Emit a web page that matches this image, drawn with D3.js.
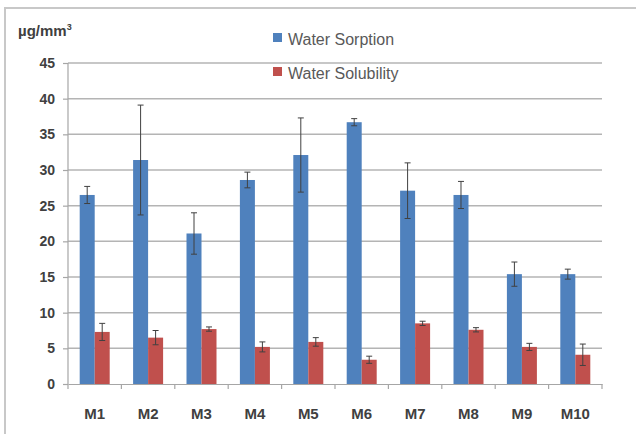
<!DOCTYPE html>
<html>
<head>
<meta charset="utf-8">
<script src="https://cdn.jsdelivr.net/npm/d3@7"></script>
<style>
  body { margin: 0; background: #fff; }
  svg { display: block; font-family: "Liberation Sans", Arial, sans-serif; }
</style>
</head>
<body>
<svg width="636" height="434"></svg>
<script>
var categories = ["M1", "M2", "M3", "M4", "M5", "M6", "M7", "M8", "M9", "M10"];
var seriesNames = ["Water Sorption", "Water Solubility"];
var sorption = [26.5, 31.4, 21.1, 28.6, 32.1, 36.7, 27.1, 26.5, 15.4, 15.4];
var sorptionErr = [1.2, 7.7, 2.9, 1.1, 5.2, 0.5, 3.9, 1.9, 1.7, 0.7];
var solubility = [7.3, 6.5, 7.7, 5.2, 5.9, 3.4, 8.5, 7.6, 5.2, 4.1];
var solubilityErr = [1.2, 1.0, 0.3, 0.7, 0.6, 0.5, 0.3, 0.3, 0.5, 1.5];
var yTicks = [0, 5, 10, 15, 20, 25, 30, 35, 40, 45];
var colors = ["#4f81bd", "#c0504d"];

var svg = d3.select("svg"),
    margin = {top: 63, right: 34, bottom: 50, left: 68},
    width = +svg.attr("width") - margin.left - margin.right,
    height = +svg.attr("height") - margin.top - margin.bottom;

var data = categories.map(function(c, i) {
  return {
    cat: c,
    values: [
      {key: seriesNames[0], v: sorption[i], e: sorptionErr[i], k: 0},
      {key: seriesNames[1], v: solubility[i], e: solubilityErr[i], k: 1}
    ]
  };
});

// outer frame (cut off at right/bottom edge in the picture)
svg.append("rect")
    .attr("x", 5).attr("y", 8)
    .attr("width", 700).attr("height", 500)
    .attr("fill", "none")
    .attr("stroke", "#c8c8c8")
    .attr("stroke-width", 2);

var x0 = d3.scaleBand()
    .domain(categories)
    .range([0, width]);

var x1 = d3.scaleBand()
    .domain(seriesNames)
    .range([0, x0.bandwidth()])
    .paddingOuter(0.78);

var y = d3.scaleLinear()
    .domain([0, 45])
    .range([height, 0]);

var g = svg.append("g")
    .attr("transform", "translate(" + margin.left + "," + margin.top + ")");

// gridlines
g.append("g")
  .selectAll("line")
  .data(yTicks.slice(1))
  .enter().append("line")
    .attr("x1", 0).attr("x2", width)
    .attr("y1", function(d) { return y(d); })
    .attr("y2", function(d) { return y(d); })
    .attr("stroke", "#b4b4b4")
    .attr("stroke-width", 1.5);

// y axis
var yAxis = g.append("g")
    .call(d3.axisLeft(y).tickValues(yTicks).tickSize(5).tickPadding(8));
yAxis.select(".domain").attr("stroke", "#a6a6a6").attr("stroke-width", 1.2)
    .attr("d", "M0," + y(45) + "V" + y(0));
yAxis.selectAll(".tick line").attr("stroke", "#a6a6a6").attr("stroke-width", 1.2);
yAxis.selectAll(".tick text")
    .style("font-size", "14px")
    .style("font-weight", "bold")
    .attr("fill", "#404040");

// x axis
var xAxis = g.append("g")
    .attr("transform", "translate(0," + height + ")")
    .call(d3.axisBottom(x0).tickSize(0).tickPadding(24));
xAxis.select(".domain").attr("stroke", "#a6a6a6").attr("stroke-width", 1.2);
xAxis.selectAll(".tick text")
    .style("font-size", "15px")
    .style("font-weight", "bold")
    .attr("fill", "#404040");

// boundary ticks between categories
xAxis.append("g")
  .selectAll("line")
  .data(d3.range(categories.length + 1))
  .enter().append("line")
    .attr("x1", function(i) { return i * x0.step(); })
    .attr("x2", function(i) { return i * x0.step(); })
    .attr("y1", 0).attr("y2", 5)
    .attr("stroke", "#a6a6a6")
    .attr("stroke-width", 1.2);

// bars
var groups = g.selectAll(".grp")
  .data(data)
  .enter().append("g")
    .attr("class", "grp")
    .attr("transform", function(d) { return "translate(" + x0(d.cat) + ",0)"; });

groups.selectAll("rect")
  .data(function(d) { return d.values; })
  .enter().append("rect")
    .attr("x", function(d) { return x1(d.key); })
    .attr("y", function(d) { return y(d.v); })
    .attr("width", x1.bandwidth())
    .attr("height", function(d) { return y(0) - y(d.v); })
    .attr("fill", function(d) { return colors[d.k]; });

// error bars
var err = groups.selectAll(".err")
  .data(function(d) { return d.values; })
  .enter().append("g")
    .attr("class", "err")
    .attr("stroke", "#404040")
    .attr("stroke-width", 1);

err.append("line")
    .attr("x1", function(d) { return x1(d.key) + x1.bandwidth() / 2; })
    .attr("x2", function(d) { return x1(d.key) + x1.bandwidth() / 2; })
    .attr("y1", function(d) { return y(d.v + d.e); })
    .attr("y2", function(d) { return y(d.v - d.e); });

[1, -1].forEach(function(s) {
  err.append("line")
      .attr("x1", function(d) { return x1(d.key) + x1.bandwidth() / 2 - 3; })
      .attr("x2", function(d) { return x1(d.key) + x1.bandwidth() / 2 + 3; })
      .attr("y1", function(d) { return y(d.v + s * d.e); })
      .attr("y2", function(d) { return y(d.v + s * d.e); });
});

// y unit label
var unit = svg.append("text")
    .attr("x", 18).attr("y", 36)
    .style("font-size", "15px")
    .style("font-weight", "bold")
    .attr("fill", "#404040")
    .text("µg/mm");
unit.append("tspan")
    .attr("dy", -6)
    .style("font-size", "9px")
    .text("3");

// legend
var legend = svg.append("g")
  .selectAll("g")
  .data(seriesNames)
  .enter().append("g")
    .attr("transform", function(d, i) { return "translate(273," + (33 + i * 34) + ")"; });

legend.append("rect")
    .attr("width", 9).attr("height", 9)
    .attr("fill", function(d, i) { return colors[i]; });

legend.append("text")
    .attr("x", 15).attr("y", 12)
    .style("font-size", "16px")
    .attr("fill", "#595959")
    .text(function(d) { return d; });
</script>
</body>
</html>
